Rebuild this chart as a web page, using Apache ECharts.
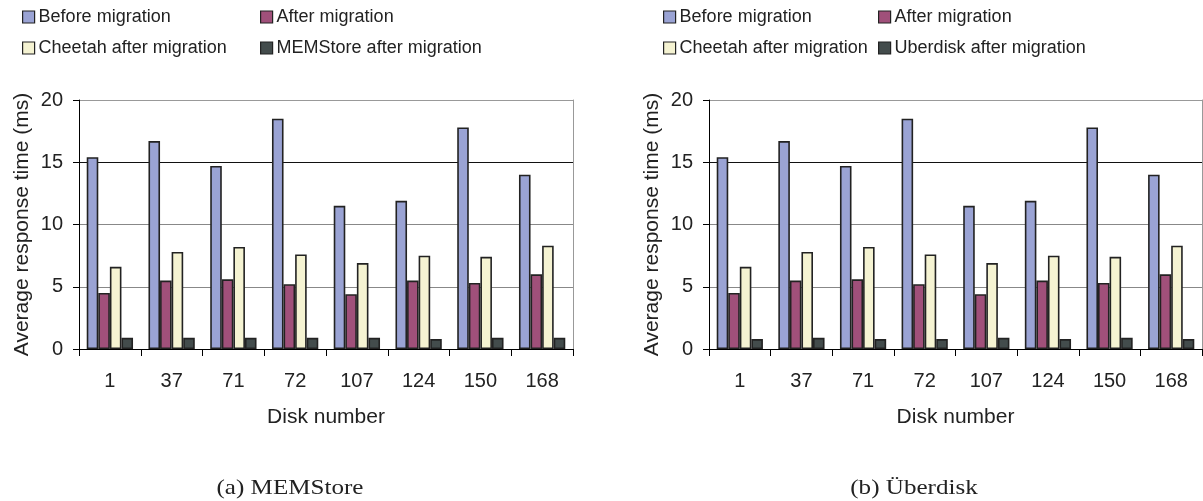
<!DOCTYPE html>
<html>
<head>
<meta charset="utf-8">
<script src="https://cdn.jsdelivr.net/npm/echarts@6/dist/echarts.min.js"></script>
<style>
  html, body { margin: 0; padding: 0; background: #fff; }
  #chart { width: 1203px; height: 501px; }
</style>
</head>
<body>
<div id="chart"></div>
<script>
// Disk numbers on the x axis
const categories = ['1', '37', '71', '72', '107', '124', '150', '168'];
// Average response time (ms)
const beforeMigration = [15.4, 16.7, 14.7, 18.5, 11.5, 11.9, 17.8, 14.0];
const afterMigration = [4.5, 5.5, 5.6, 5.2, 4.4, 5.5, 5.3, 6.0];
const cheetahAfter = [6.6, 7.8, 8.2, 7.6, 6.9, 7.5, 7.4, 8.3];
const memstoreAfter = [0.9, 0.9, 0.9, 0.9, 0.9, 0.8, 0.9, 0.9];
const uberdiskAfter = [0.8, 0.9, 0.8, 0.8, 0.9, 0.8, 0.9, 0.8];
const yTicks = [0, 5, 10, 15, 20];
const captions = ['(a) MEMStore', '(b) Überdisk'];

const COLORS = {
  before: '#9aa3d4',
  after: '#a0507a',
  cheetah: '#f5f3d2',
  fast: '#434c4c'
};
const SANS = '"Liberation Sans", Arial, sans-serif';
const SERIF = '"Liberation Serif", "Times New Roman", serif';
const TEXT = '#222';

const grids = [
  { left: 79, top: 100, width: 494, height: 249 },
  { left: 709, top: 100, width: 493, height: 249 }
];

function xAxisFor(gi) {
  return {
    type: 'category', gridIndex: gi, data: categories,
    axisLine: { lineStyle: { color: '#000', width: 1 } },
    axisTick: { show: true, length: 7, lineStyle: { color: '#000' } },
    axisLabel: { fontFamily: SANS, fontSize: 20, color: TEXT, margin: 22 },
    name: 'Disk number', nameLocation: 'middle', nameGap: 58,
    nameTextStyle: { fontFamily: SANS, fontSize: 21, color: TEXT }
  };
}
function yAxisFor(gi) {
  return {
    type: 'value', gridIndex: gi, min: yTicks[0], max: yTicks[yTicks.length - 1], interval: 5,
    axisLine: { show: true, lineStyle: { color: '#000', width: 1 } },
    axisTick: { show: true, length: 6, lineStyle: { color: '#000' } },
    axisLabel: { fontFamily: SANS, fontSize: 20, color: TEXT, margin: 16 },
    splitLine: { show: true, lineStyle: { color: ['#888', '#888', '#888', '#111', '#999'], width: 1 } },
    name: 'Average response time (ms)', nameLocation: 'middle', nameGap: 46,
    nameTextStyle: { fontFamily: SANS, fontSize: 21, color: TEXT }
  };
}
// plain right-hand frame edge of each plot
function frameAxisFor(gi) {
  return {
    type: 'value', gridIndex: gi, position: 'right', min: 0, max: 20, interval: 5,
    axisLine: { show: true, lineStyle: { color: '#999', width: 1 } },
    axisTick: { show: false }, axisLabel: { show: false }, splitLine: { show: false }
  };
}

function barSeries(name, data, color, gi) {
  return {
    name: name, type: 'bar', xAxisIndex: gi, yAxisIndex: gi, data: data,
    barGap: '0%', barCategoryGap: '25%',
    itemStyle: { color: color, borderColor: '#222', borderWidth: 1.6 },
    emphasis: { disabled: true }
  };
}

const fastNames = ['MEMStore after migration', 'Uberdisk after migration'];
const fastData = [memstoreAfter, uberdiskAfter];

const series = [];
[0, 1].forEach(gi => {
  series.push(barSeries('Before migration', beforeMigration, COLORS.before, gi));
  series.push(barSeries('After migration', afterMigration, COLORS.after, gi));
  series.push(barSeries('Cheetah after migration', cheetahAfter, COLORS.cheetah, gi));
  series.push(barSeries(fastNames[gi], fastData[gi], COLORS.fast, gi));
});

// one legend entry per box so each item sits where it belongs
const legendSpots = [
  { name: 'Before migration', left: 22, top: 8 },
  { name: 'After migration', left: 260, top: 8 },
  { name: 'Cheetah after migration', left: 22, top: 39 },
  { name: 'MEMStore after migration', left: 260, top: 39 },
  { name: 'Before migration', left: 663, top: 8 },
  { name: 'After migration', left: 878, top: 8 },
  { name: 'Cheetah after migration', left: 663, top: 39 },
  { name: 'Uberdisk after migration', left: 878, top: 39 }
];
const legends = legendSpots.map(s => ({
  data: [s.name], left: s.left, top: s.top, padding: 0,
  icon: 'rect', itemWidth: 12, itemHeight: 12,
  itemStyle: { borderColor: '#222', borderWidth: 1.2 },
  textStyle: { fontFamily: SANS, fontSize: 18, color: TEXT, padding: [0, 0, 0, -1] },
  selectedMode: false
}));

const captionCenters = [290, 914];
const graphic = captions.map((t, i) => ({
  type: 'text', x: captionCenters[i], y: 488, scaleX: 1.14,
  style: { text: t, font: '22px ' + SERIF, fill: '#222', textAlign: 'center', textVerticalAlign: 'middle' }
}));

const chart = echarts.init(document.getElementById('chart'), null, { renderer: 'canvas' });
chart.setOption({
  animation: false,
  backgroundColor: '#fff',
  grid: grids,
  xAxis: [xAxisFor(0), xAxisFor(1)],
  yAxis: [yAxisFor(0), yAxisFor(1), frameAxisFor(0), frameAxisFor(1)],
  legend: legends,
  series: series,
  graphic: graphic
});
</script>
</body>
</html>
